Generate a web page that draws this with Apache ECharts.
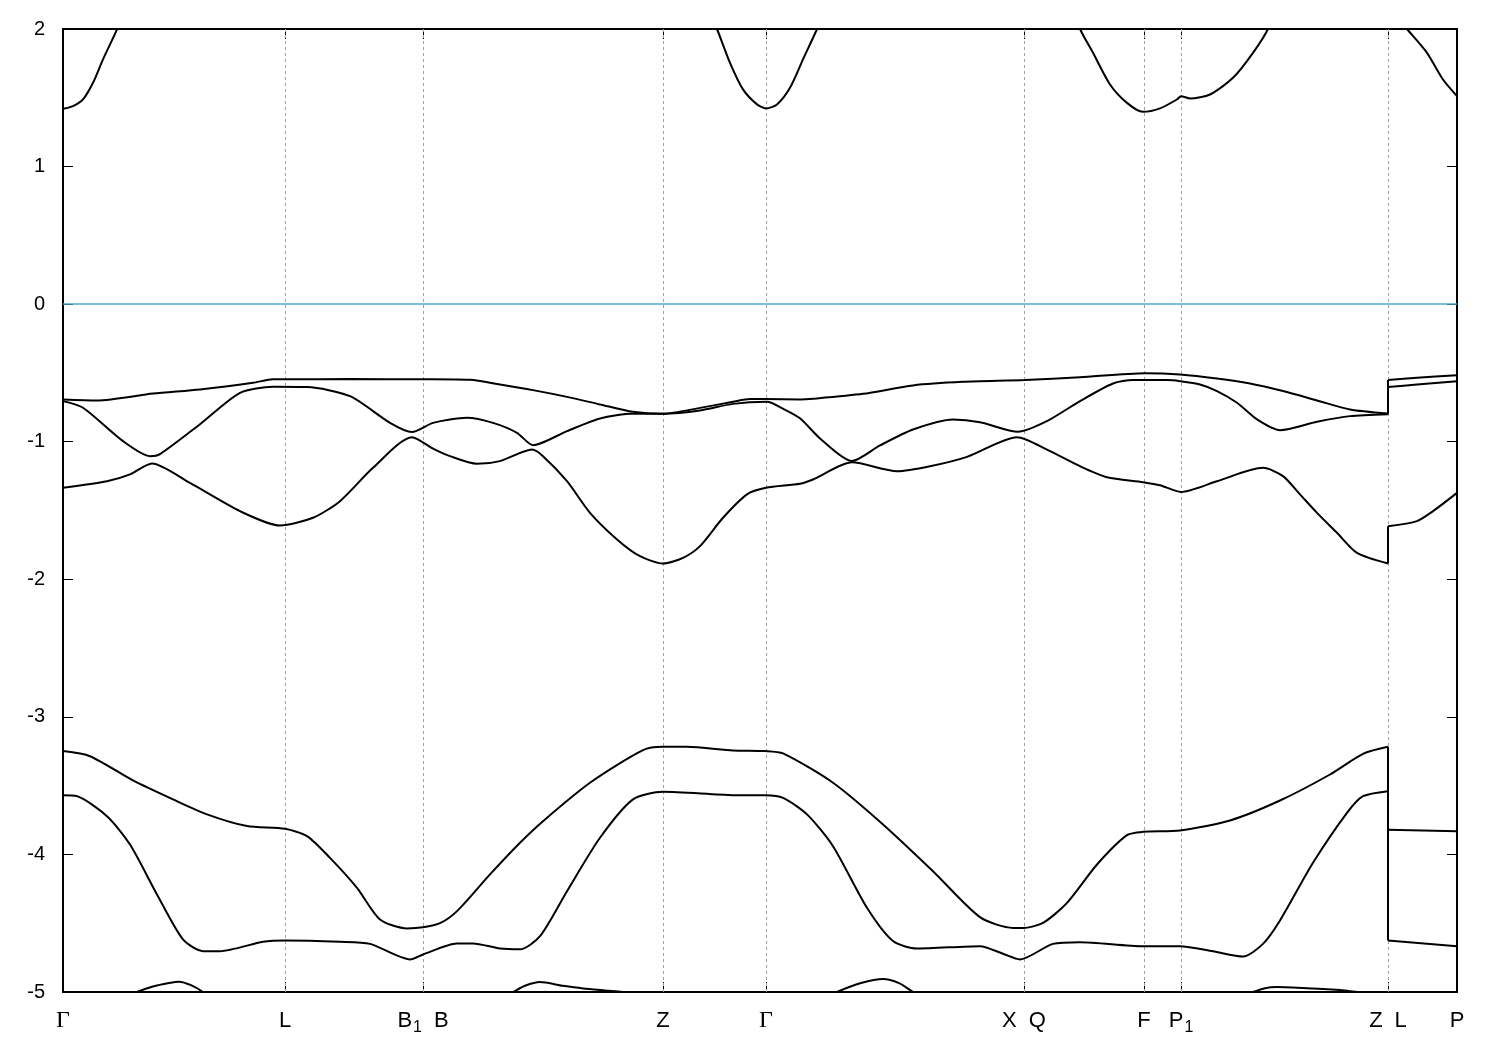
<!DOCTYPE html>
<html>
<head>
<meta charset="utf-8">
<script src="https://cdn.jsdelivr.net/npm/echarts@6/dist/echarts.min.js"></script>
<style>
html,body{margin:0;padding:0;background:#fff;}
#chart{width:1500px;height:1050px;}
</style>
</head>
<body>
<div id="chart"></div>
<script>
// High-symmetry points along the k-path (path coordinate) and their labels
const kTicks = [0, 222, 360, 600, 703, 961, 1081, 1118, 1325, 1394];
const kLabels = ['Γ', 'L', 'B_1 B', 'Z', 'Γ', 'X Q', 'F', 'P_1', 'Z L', 'P'];
const yTicks = [-5, -4, -3, -2, -1, 0, 1, 2];

// Valence bands near the gap
const v1 = [[0,-0.693],[34,-0.70],[90,-0.65],[137,-0.62],[190,-0.572],[210,-0.546],[222,-0.546],[287,-0.545],[360,-0.546],[407,-0.55],[437,-0.584],[470,-0.625],[504,-0.674],[537,-0.729],[570,-0.783],[600,-0.797],[637,-0.754],[670,-0.71],[687,-0.69],[703,-0.69],[737,-0.693],[750,-0.688],[800,-0.652],[850,-0.591],[900,-0.565],[962,-0.552],[1017,-0.531],[1082,-0.502],[1117,-0.511],[1154,-0.54],[1187,-0.577],[1220,-0.632],[1254,-0.70],[1287,-0.766],[1325,-0.795],[1325,-0.552],[1354,-0.535],[1394,-0.516]];
const v2 = [[0,-0.705],[20,-0.753],[60,-0.996],[87,-1.105],[97,-1.09],[137,-0.873],[177,-0.645],[210,-0.601],[244,-0.603],[287,-0.669],[327,-0.863],[349,-0.93],[370,-0.863],[404,-0.826],[430,-0.863],[454,-0.935],[470,-1.025],[504,-0.923],[537,-0.831],[570,-0.795],[600,-0.797],[637,-0.773],[670,-0.725],[704,-0.71],[720,-0.76],[737,-0.83],[757,-0.976],[789,-1.14],[817,-1.027],[850,-0.911],[890,-0.838],[917,-0.858],[955,-0.928],[984,-0.85],[1017,-0.705],[1050,-0.577],[1070,-0.552],[1104,-0.552],[1117,-0.56],[1137,-0.584],[1154,-0.632],[1174,-0.717],[1194,-0.838],[1217,-0.916],[1254,-0.855],[1287,-0.814],[1325,-0.80],[1325,-0.603],[1354,-0.584],[1394,-0.56]];
const v3 = [[0,-1.335],[44,-1.287],[67,-1.237],[89,-1.158],[127,-1.30],[177,-1.505],[217,-1.609],[250,-1.553],[277,-1.432],[310,-1.19],[349,-0.967],[370,-1.05],[387,-1.105],[414,-1.161],[437,-1.141],[469,-1.057],[480,-1.105],[504,-1.287],[527,-1.517],[554,-1.71],[577,-1.832],[600,-1.885],[620,-1.844],[637,-1.759],[660,-1.553],[684,-1.383],[703,-1.335],[737,-1.306],[750,-1.275],[789,-1.15],[834,-1.214],[867,-1.178],[904,-1.11],[954,-0.967],[984,-1.057],[1017,-1.178],[1044,-1.258],[1080,-1.294],[1097,-1.316],[1118,-1.365],[1154,-1.287],[1200,-1.19],[1220,-1.25],[1237,-1.383],[1254,-1.517],[1274,-1.662],[1294,-1.808],[1325,-1.885],[1325,-1.614],[1354,-1.577],[1370,-1.505],[1394,-1.372]];

// Conduction bands (top of window)
const c1 = [[0,1.42],[10,1.44],[20,1.488],[30,1.609],[40,1.779],[54,1.997],[62,2.15]];
const c2 = [[642,2.2],[654,2.0],[667,1.754],[680,1.561],[694,1.452],[703,1.423],[714,1.452],[727,1.573],[740,1.779],[754,2.0],[765,2.2]];
const c3 = [[1007,2.2],[1017,2.0],[1030,1.827],[1047,1.597],[1064,1.463],[1080,1.398],[1097,1.423],[1114,1.488],[1118,1.512],[1127,1.495],[1147,1.524],[1170,1.645],[1190,1.827],[1205,2.0],[1215,2.2]];
const c4 = [[1325,2.17],[1344,2.0],[1364,1.827],[1380,1.633],[1394,1.512]];

// Deeper valence bands
const w1 = [[0,-3.249],[27,-3.286],[70,-3.462],[110,-3.60],[144,-3.709],[184,-3.794],[222,-3.814],[244,-3.867],[267,-4.025],[294,-4.243],[317,-4.473],[344,-4.538],[360,-4.53],[377,-4.50],[394,-4.412],[427,-4.145],[457,-3.915],[480,-3.758],[527,-3.479],[580,-3.242],[600,-3.218],[624,-3.218],[670,-3.244],[702,-3.249],[720,-3.266],[770,-3.479],[820,-3.782],[870,-4.122],[917,-4.456],[950,-4.534],[960,-4.534],[980,-4.498],[1004,-4.352],[1034,-4.073],[1064,-3.86],[1080,-3.836],[1117,-3.826],[1167,-3.753],[1217,-3.608],[1267,-3.419],[1300,-3.269],[1325,-3.218],[1325,-3.82],[1394,-3.831]];
const w2 = [[0,-3.569],[14,-3.576],[44,-3.722],[67,-3.928],[94,-4.291],[120,-4.618],[140,-4.703],[157,-4.703],[200,-4.635],[222,-4.625],[277,-4.635],[307,-4.65],[347,-4.763],[360,-4.727],[394,-4.647],[410,-4.647],[437,-4.684],[457,-4.69],[477,-4.594],[504,-4.267],[537,-3.879],[570,-3.60],[600,-3.545],[670,-3.569],[702,-3.57],[720,-3.589],[744,-3.709],[770,-3.94],[804,-4.388],[830,-4.63],[854,-4.684],[917,-4.667],[940,-4.722],[957,-4.763],[990,-4.65],[1017,-4.638],[1080,-4.667],[1117,-4.667],[1150,-4.704],[1180,-4.742],[1200,-4.65],[1217,-4.48],[1250,-4.061],[1284,-3.698],[1300,-3.577],[1325,-3.54],[1325,-4.625],[1394,-4.667]];

// Band poking up from below the window
const u1 = [[60,-5.05],[74,-5.0],[90,-4.96],[106,-4.935],[116,-4.925],[128,-4.95],[140,-5.0],[150,-5.06]];
const u2 = [[440,-5.04],[450,-5.0],[462,-4.955],[477,-4.928],[500,-4.955],[520,-4.974],[545,-4.99],[560,-5.0],[575,-5.01]];
const u3 = [[764,-5.04],[774,-5.0],[798,-4.935],[820,-4.905],[836,-4.935],[850,-5.0],[860,-5.05]];
const u4 = [[1180,-5.03],[1190,-5.0],[1202,-4.972],[1214,-4.964],[1250,-4.975],[1284,-4.99],[1295,-5.0],[1305,-5.01]];

const bands = [v1, v2, v3, c1, c2, c3, c4, w1, w2, u1, u2, u3, u4];

const chart = echarts.init(document.getElementById('chart'));

// split a band at path discontinuities (repeated k) into smooth pieces + vertical joins
function splitBand(d) {
  const pieces = [], joins = [];
  let cur = [d[0]];
  for (let i = 1; i < d.length; i++) {
    if (d[i][0] === d[i - 1][0]) {
      pieces.push(cur);
      joins.push([d[i - 1], d[i]]);
      cur = [d[i]];
    } else {
      cur.push(d[i]);
    }
  }
  pieces.push(cur);
  return { pieces: pieces, joins: joins };
}

function fmtLabel(val) {
  const i = kTicks.indexOf(val);
  if (i < 0) return '';
  return kLabels[i].split(' ').map(function (part) {
    if (part === 'Γ') return '{g|Γ}';
    const m = part.split('_');
    if (m.length === 2) return '{n|' + m[0] + '}{s|' + m[1] + '}';
    return '{n|' + part + '}';
  }).join('{sp|}');
}

const fontMain = 'Liberation Sans, Arial, Helvetica, sans-serif';

const axisBase = {
  type: 'value',
  axisLine: { show: true, onZero: false, lineStyle: { color: '#000', width: 2 } },
  axisTick: { show: true, inside: true, length: 10, lineStyle: { color: '#000', width: 1 } },
  splitLine: { show: false }
};

function lineSeries(data, smooth) {
  return {
    type: 'line',
    data: data,
    showSymbol: false,
    symbol: 'none',
    smooth: smooth,
    clip: true,
    lineStyle: { color: '#000', width: 2 },
    silent: true,
    animation: false,
    z: 10
  };
}

const series = [];
bands.forEach(function (d) {
  const s = splitBand(d);
  s.pieces.forEach(function (p) { series.push(lineSeries(p, 0.25)); });
  s.joins.forEach(function (j) { series.push(lineSeries(j, false)); });
});

series.push({
  type: 'line',
  data: [],
  silent: true,
  animation: false,
  z: 1,
  markLine: {
    z: 1,
    silent: true,
    symbol: ['none', 'none'],
    label: { show: false },
    animation: false,
    data: kTicks.slice(1, -1).map(function (k) {
      return { xAxis: k, lineStyle: { color: '#a0a0a0', width: 1, type: [3, 3] } };
    }).concat([{ yAxis: 0, lineStyle: { color: '#4aa6da', width: 1.5, type: 'solid' } }])
  }
});

chart.setOption({
  animation: false,
  backgroundColor: '#fff',
  grid: { left: 63, right: 43, top: 29, bottom: 58, containLabel: false },
  xAxis: [
    Object.assign({}, axisBase, {
      position: 'bottom', min: 0, max: 1394,
      axisTick: { show: true, inside: true, length: 10, customValues: kTicks, lineStyle: { color: '#000', width: 1 } },
      axisLabel: {
        show: true, customValues: kTicks, margin: 13, formatter: fmtLabel,
        rich: {
          n: { fontFamily: fontMain, fontSize: 22, color: '#000', lineHeight: 31 },
          g: { fontFamily: 'Liberation Serif, DejaVu Serif, serif', fontSize: 24, color: '#000', lineHeight: 31 },
          sp: { width: 12, lineHeight: 31 },
          s: { fontFamily: fontMain, fontSize: 16, color: '#000', lineHeight: 15, verticalAlign: 'bottom', padding: [16, 0, 0, 1] }
        }
      }
    }),
    Object.assign({}, axisBase, {
      position: 'top', min: 0, max: 1394,
      axisTick: { show: true, inside: true, length: 10, customValues: kTicks, lineStyle: { color: '#000', width: 1 } },
      axisLabel: { show: false }
    })
  ],
  yAxis: [
    Object.assign({}, axisBase, {
      position: 'left', min: -5, max: 2, interval: 1,
      axisLabel: { show: true, margin: 18, fontFamily: fontMain, fontSize: 20, color: '#000' }
    }),
    Object.assign({}, axisBase, {
      position: 'right', min: -5, max: 2, interval: 1,
      axisLabel: { show: false }
    })
  ],
  series: series
});
</script>
</body>
</html>
